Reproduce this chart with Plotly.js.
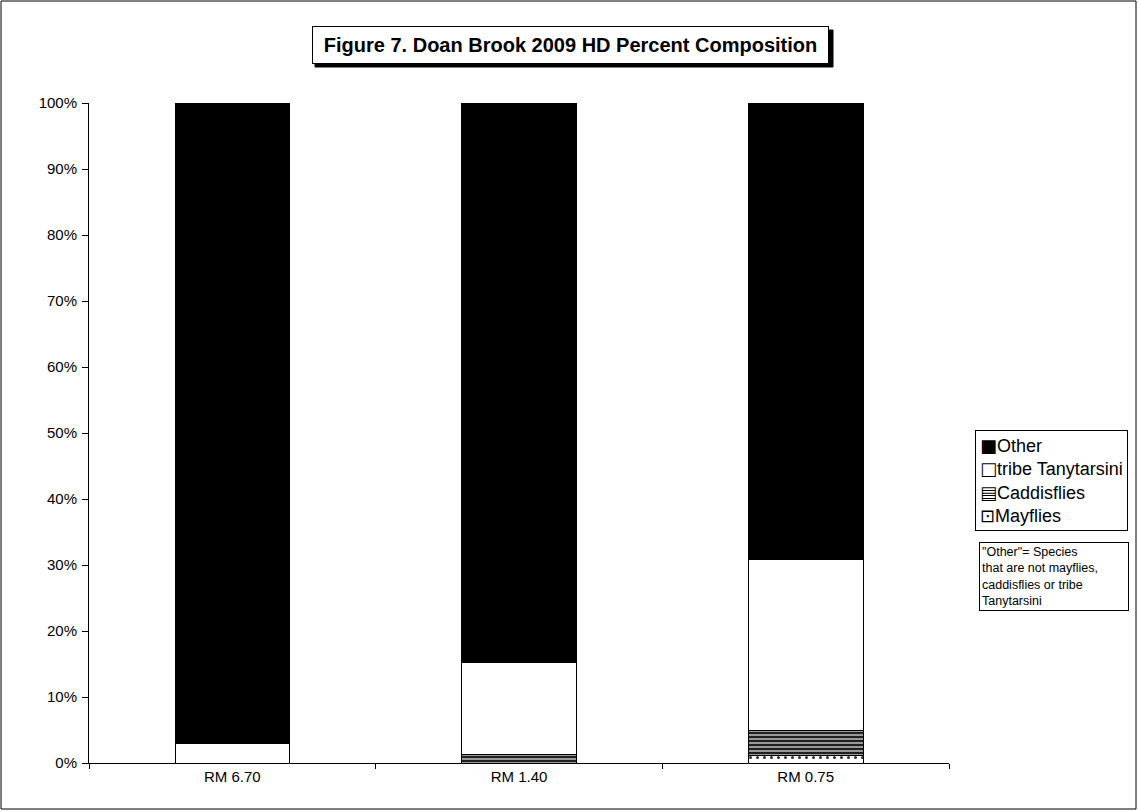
<!DOCTYPE html>
<html>
<head>
<meta charset="utf-8">
<script src="https://cdn.plot.ly/plotly-3.0.1.min.js"></script>
<style>
html,body{margin:0;padding:0;background:#fff;}
#chart{width:1138px;height:811px;}
</style>
</head>
<body>
<div id="chart"></div>
<script>
const sites = ["RM 6.70", "RM 1.40", "RM 0.75"];
const mayflies = [0, 0, 1.2];
const caddisflies = [0, 1.3, 3.7];
const tanytarsini = [2.9, 13.9, 25.9];
const other = [97.1, 84.8, 69.2];
const yTickVals = [0, 10, 20, 30, 40, 50, 60, 70, 80, 90, 100];
const yTickText = ["0%", "10%", "20%", "30%", "40%", "50%", "60%", "70%", "80%", "90%", "100%"];
const seriesNames = ["Mayflies", "Caddisflies", "tribe Tanytarsini", "Other"];
const legendGlyphs = ["\u22A1", "\u25A4", "\u25A1", "\u25A0"];
const titleText = "Figure 7. Doan Brook 2009 HD Percent Composition";
const noteText = "\"Other\"= Species<br>that are not mayflies,<br>caddisflies or tribe<br>Tanytarsini";

const FONT = "Arial, 'Liberation Sans', sans-serif";
const line = {color: "#000", width: 1};

const traces = [
  {name: seriesNames[0], x: sites, y: mayflies, type: "bar",
   marker: {color: "#fff", line: line, pattern: {shape: ".", fgcolor: "#333", bgcolor: "#fff", size: 7, solidity: 0.15}}},
  {name: seriesNames[1], x: sites, y: caddisflies, type: "bar",
   marker: {color: "#888", line: line, pattern: {shape: "-", fgcolor: "#000", bgcolor: "#999", size: 4, solidity: 0.4}}},
  {name: seriesNames[2], x: sites, y: tanytarsini, type: "bar",
   marker: {color: "#fff", line: line}},
  {name: seriesNames[3], x: sites, y: other, type: "bar",
   marker: {color: "#000", line: line}}
];

const W = 1138, H = 811, L = 89, R = 189, T = 103, B = 48;
const pw = W - L - R, ph = H - T - B;
const px = v => (v - L) / pw;
const py = v => (H - B - v) / ph;

// legend text built from the series names, top entry = last stacked series
const legendText = seriesNames.map((n, i) =>
  "<span style=\"font-family:'DejaVu Sans'\">" + legendGlyphs[i] + "</span>" + n
).reverse().join("<br>");

const layout = {
  width: W, height: H,
  margin: {l: L, r: R, t: T, b: B, pad: 0},
  paper_bgcolor: "#fff", plot_bgcolor: "#fff",
  font: {family: FONT, size: 15, color: "#000"},
  barmode: "stack",
  bargap: 0.6,
  showlegend: false,
  xaxis: {
    type: "category",
    showline: true, linecolor: "#000", linewidth: 1,
    ticks: "outside", tickson: "boundaries", ticklen: 5, tickcolor: "#000",
    showgrid: false, zeroline: false,
    tickfont: {family: FONT, size: 15, color: "#000"}
  },
  yaxis: {
    range: [0, 100],
    tickvals: yTickVals, ticktext: yTickText,
    showline: true, linecolor: "#000", linewidth: 1,
    ticks: "outside", ticklen: 6, tickcolor: "#000", ticklabelstandoff: 2,
    showgrid: false, zeroline: false,
    tickfont: {family: FONT, size: 15, color: "#000"}
  },
  shapes: [
    {type: "rect", xref: "paper", yref: "paper",
     x0: px(1), x1: px(1136), y0: py(809), y1: py(1),
     line: {color: "#000", width: 1}, fillcolor: "rgba(0,0,0,0)", layer: "below"},
    {type: "rect", xref: "paper", yref: "paper",
     x0: px(315), x1: px(833), y0: py(67), y1: py(30),
     line: {color: "#000", width: 1}, fillcolor: "#000", layer: "above"}
  ],
  annotations: [
    {xref: "paper", yref: "paper", x: px(570.5), y: py(45), xanchor: "center", yanchor: "middle",
     text: "<b>" + titleText + "</b>", showarrow: false,
     width: 505, height: 26,
     font: {family: FONT, size: 20, color: "#000"},
     bgcolor: "#fff", bordercolor: "#000", borderwidth: 1, borderpad: 5},
    {xref: "paper", yref: "paper", x: px(975), y: py(430), xanchor: "left", yanchor: "top",
     text: legendText, align: "left", showarrow: false,
     font: {family: "'Liberation Sans', sans-serif", size: 18, color: "#000"},
     bgcolor: "#fff", bordercolor: "#000", borderwidth: 1, borderpad: 4},
    {xref: "paper", yref: "paper", x: px(979), y: py(542), xanchor: "left", yanchor: "top",
     text: noteText, align: "left", showarrow: false, width: 144,
     font: {family: FONT, size: 12.5, color: "#000"},
     bgcolor: "#fff", bordercolor: "#000", borderwidth: 1, borderpad: 2}
  ]
};

Plotly.newPlot("chart", traces, layout, {displayModeBar: false, staticPlot: true});
</script>
</body>
</html>
